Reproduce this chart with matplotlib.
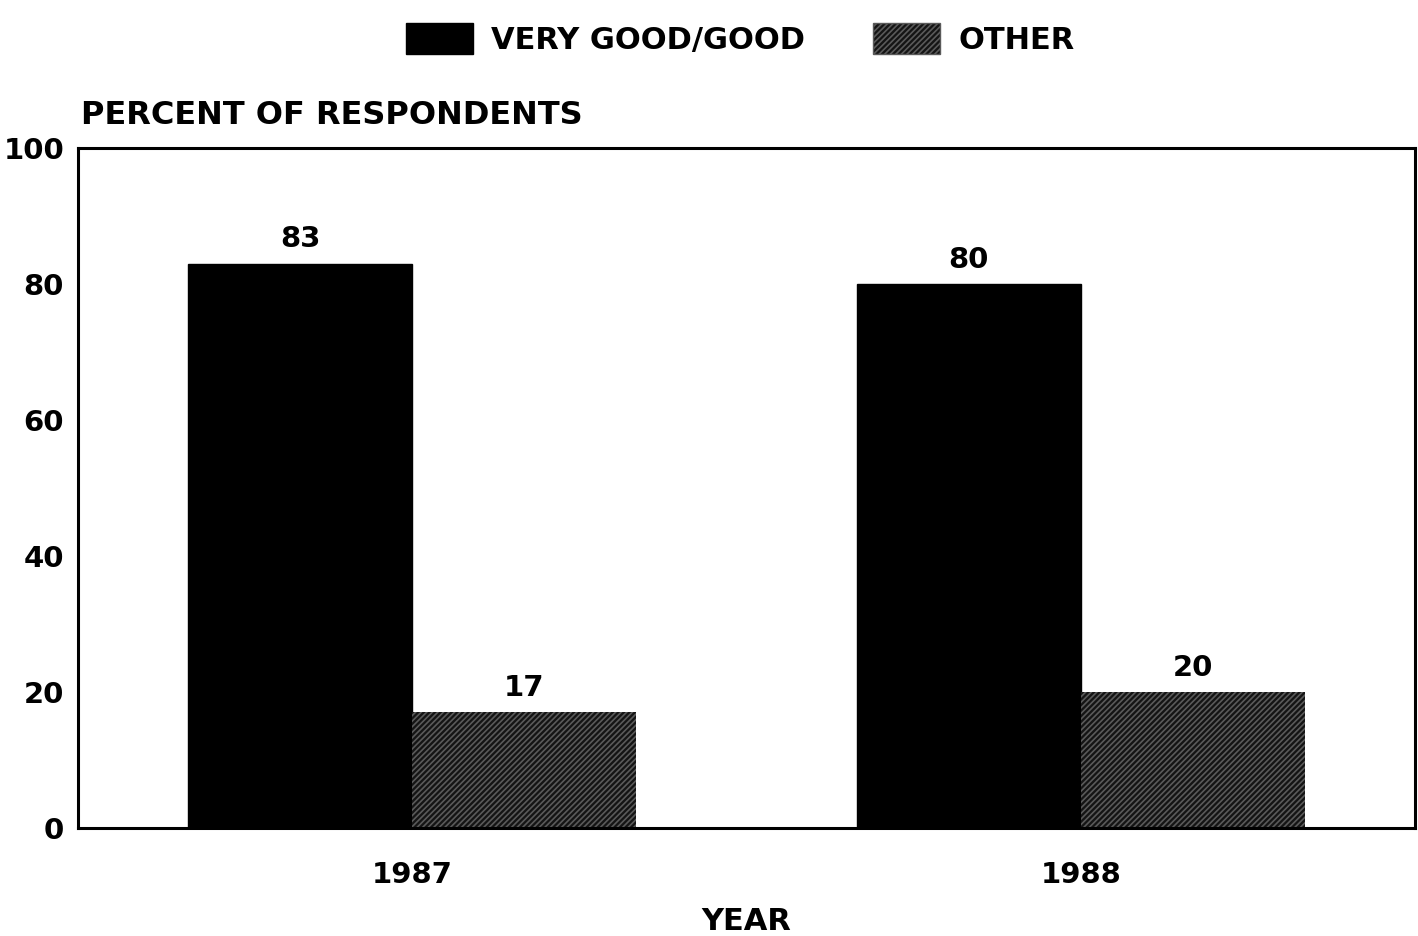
import numpy as np
import matplotlib.pyplot as plt
from matplotlib.patches import Patch

plt.rcParams['font.family'] = ['DejaVu Sans']
plt.rcParams['font.weight'] = 'bold'
plt.rcParams['hatch.linewidth'] = 1.2

# Data
years = ['1987', '1988']
good = [83, 80]
other = [17, 20]
series_names = ['VERY GOOD/GOOD', 'OTHER']

fig = plt.figure(figsize=(14.18, 9.36), dpi=100)
ax = fig.add_axes([0.055, 0.1154, 0.943, 0.7265])

x = np.arange(len(years))
w = 0.335

b1 = ax.bar(x - w / 2, good, width=w, color='black', edgecolor='black')
b2 = ax.bar(x + w / 2, other, width=w, color='#141414', edgecolor='#5a5a5a',
            hatch='//////', linewidth=0)

for bars, vals in [(b1, good), (b2, other)]:
    for rect, v in zip(bars, vals):
        ax.text(rect.get_x() + rect.get_width() / 2, v + 1.5, str(v),
                ha='center', va='bottom', fontsize=21, fontweight='bold')

ax.set_xlim(-0.5, 1.5)
ax.set_ylim(0, 100)
ax.set_yticks([0, 20, 40, 60, 80, 100])
ax.set_xticks(x)
ax.set_xticklabels(years)
ax.tick_params(axis='y', length=0, labelsize=21, pad=10)
ax.tick_params(axis='x', length=0, labelsize=21, pad=24)
for s in ax.spines.values():
    s.set_linewidth(2.2)

ax.set_xlabel('YEAR', fontsize=22, fontweight='bold', labelpad=13)
fig.text(0.057, 0.877, 'PERCENT OF RESPONDENTS', fontsize=23,
         fontweight='bold', ha='left', va='center')

handles = [Patch(facecolor='black', edgecolor='black'),
           Patch(facecolor='#141414', edgecolor='#5a5a5a', hatch='//////')]
fig.legend(handles, series_names, loc='upper center', bbox_to_anchor=(0.522, 1.005),
           ncol=2, frameon=False, fontsize=22, handlelength=2.2, handleheight=1.2,
           columnspacing=2.2, handletextpad=0.6)

fig.savefig('out.png', dpi=100)
